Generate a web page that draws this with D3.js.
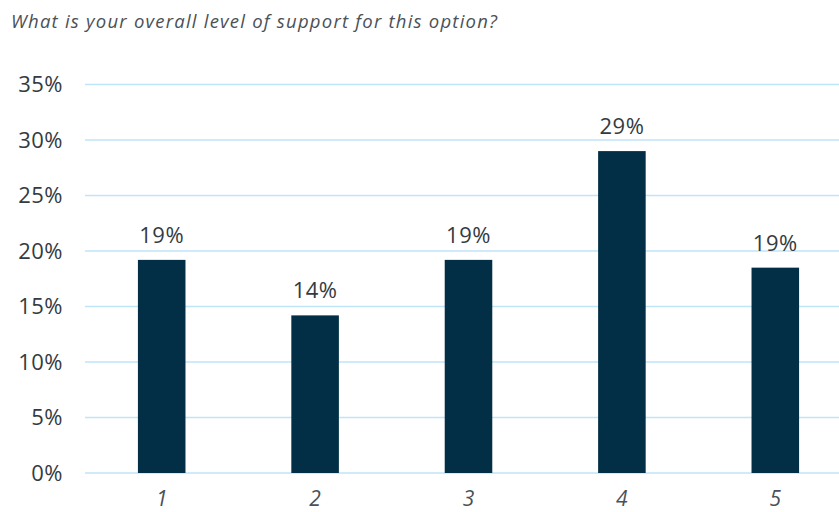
<!DOCTYPE html>
<html>
<head>
<meta charset="utf-8">
<script src="https://cdn.jsdelivr.net/npm/d3@7"></script>
<style>
  html, body { margin: 0; padding: 0; background: #fff; }
  svg { display: block; }
</style>
</head>
<body>
<svg id="chart" width="839" height="512"></svg>
<script>
// Survey responses: share of respondents at each support level
const categories = ["1", "2", "3", "4", "5"];
const shares = [0.192, 0.142, 0.192, 0.290, 0.185];
const yTicks = [0, 0.05, 0.10, 0.15, 0.20, 0.25, 0.30, 0.35];
const title = "What is your overall level of support for this option?";

const svg = d3.select("#chart");
const font = "'Open Sans', Lato, sans-serif";

const x = d3.scaleBand().domain(categories).range([85, 852]).paddingInner(0.69).paddingOuter(0.345);
const y = d3.scaleLinear().domain([0, 0.35]).range([473, 84.5]);
const pct = d3.format(".0%");

// Question text
svg.append("text")
  .attr("x", 11).attr("y", 28)
  .attr("font-family", font).attr("font-style", "italic").attr("font-weight", 400)
  .attr("font-size", 18.5).attr("fill", "#4a5157")
  .attr("textLength", 486).attr("lengthAdjust", "spacing")
  .text(title);

// Horizontal gridlines
svg.append("g").selectAll("line").data(yTicks).join("line")
  .attr("x1", 85).attr("x2", 839)
  .attr("y1", d => y(d)).attr("y2", d => y(d))
  .attr("stroke", "#bfe5f8").attr("stroke-width", 1.6);

// Y axis labels
const yAxis = svg.append("g")
  .attr("transform", "translate(63,0)")
  .call(d3.axisLeft(y).tickValues(yTicks).tickFormat(pct).tickSize(0).tickPadding(0));
yAxis.select(".domain").remove();
yAxis.selectAll("text")
  .attr("font-family", font).attr("font-weight", 400).attr("font-size", 22)
  .attr("letter-spacing", 0.5).attr("fill", "#333b41");

// X axis labels
const xAxis = svg.append("g")
  .attr("transform", "translate(0,473)")
  .call(d3.axisBottom(x).tickSize(0).tickPadding(18));
xAxis.select(".domain").remove();
xAxis.selectAll("text")
  .attr("font-family", font).attr("font-style", "italic").attr("font-weight", 400)
  .attr("font-size", 21).attr("fill", "#4a5157");

// Bars
svg.append("g").selectAll("rect").data(categories).join("rect")
  .attr("x", d => x(d))
  .attr("width", x.bandwidth())
  .attr("y", (d, i) => y(shares[i]))
  .attr("height", (d, i) => y(0) - y(shares[i]))
  .attr("fill", "#022f45");

// Value labels
svg.append("g").selectAll("text").data(categories).join("text")
  .attr("x", d => x(d) + x.bandwidth() / 2)
  .attr("y", (d, i) => y(shares[i]) - 17)
  .attr("text-anchor", "middle")
  .attr("font-family", font).attr("font-weight", 400).attr("font-size", 22)
  .attr("letter-spacing", 0.5).attr("fill", "#333b41")
  .text((d, i) => pct(shares[i]));
</script>
</body>
</html>
